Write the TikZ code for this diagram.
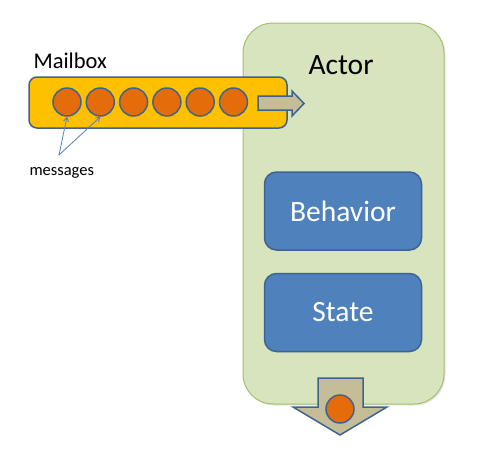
\documentclass[tikz,border=0pt]{standalone}
\usepackage{fontspec}
\setmainfont{Carlito}
\usetikzlibrary{arrows.meta,shadows}

\definecolor{actorgreen}{HTML}{D7E4BD}
\definecolor{actorline}{HTML}{A3BF6E}
\definecolor{mailyellow}{HTML}{FFC000}
\definecolor{msgorange}{HTML}{E46C0A}
\definecolor{blockblue}{HTML}{4F81BD}
\definecolor{blueline}{HTML}{3D6491}
\definecolor{arrowtan}{HTML}{C4BD97}

\def\mailarrow{(258,96) -- (292,96) -- (292,91) -- (304,103.5) -- (292,116) -- (292,110) -- (258,110) -- cycle}
\def\outarrow{(318,378) -- (363,378) -- (363,407) -- (387,407) -- (340,435) -- (293,407) -- (318,407) -- cycle}

\begin{document}
\begin{tikzpicture}[x=1pt,y=-1pt,
  block/.style={draw=blueline,line width=1.5pt,rounded corners=12pt,inner sep=0pt,
    minimum width=157pt,minimum height=78pt,fill=blockblue,text=white,
    font=\fontsize{29.5}{35}\selectfont},
  msg/.style={circle,draw=blueline,line width=1.5pt,fill=msgorange,
    minimum size=28pt,inner sep=0pt},
  pointer/.style={draw=blockblue,line width=0.8pt,-{Straight Barb[length=4pt,width=5pt]}}]
  \useasboundingbox (0,0) rectangle (483,456);

  \node[draw=actorline,line width=1pt,fill=actorgreen,rounded corners=30pt,
    minimum width=201pt,minimum height=381pt,inner sep=0pt,
    drop shadow={opacity=0.2,shadow xshift=1.5pt,shadow yshift=-1.5pt}] (actor) at (343.5,213.5) {};
  \node[anchor=base west,font=\fontsize{29.5}{35}\selectfont] (actorlabel) at (305,74) {Actor};

  % mailbox with its queue
  \node[draw=blueline,line width=1.5pt,fill=mailyellow,rounded corners=8pt,
    minimum width=258pt,minimum height=51pt,inner sep=0pt] (mailbox) at (158,102.5) {};
  \node[anchor=base west,font=\fontsize{22.5}{26}\selectfont] (maillabel) at (30,68) {Mailbox};
  \foreach \i in {1,...,6}
    \node[msg] (m\i) at ({67+33.3*(\i-1)},102) {};
  \filldraw[fill=arrowtan,draw=blueline,line width=1.5pt,line join=miter] \mailarrow;

  \node[anchor=base west,font=\fontsize{16.5}{20}\selectfont] (messages) at (26,175) {messages};
  \coordinate (tail) at (59,155);
  \draw[pointer] (tail) -- (m1.south);
  \draw[pointer] (tail) -- (m2.south);

  \node[block] (behavior) at (343,211) {Behavior};
  \node[block] (state) at (343,312.5) {State};

  \filldraw[fill=arrowtan,draw=blueline,line width=1.5pt,line join=miter] \outarrow;
  \node[msg] (outmsg) at (340,409) {};

\end{tikzpicture}
\end{document}
